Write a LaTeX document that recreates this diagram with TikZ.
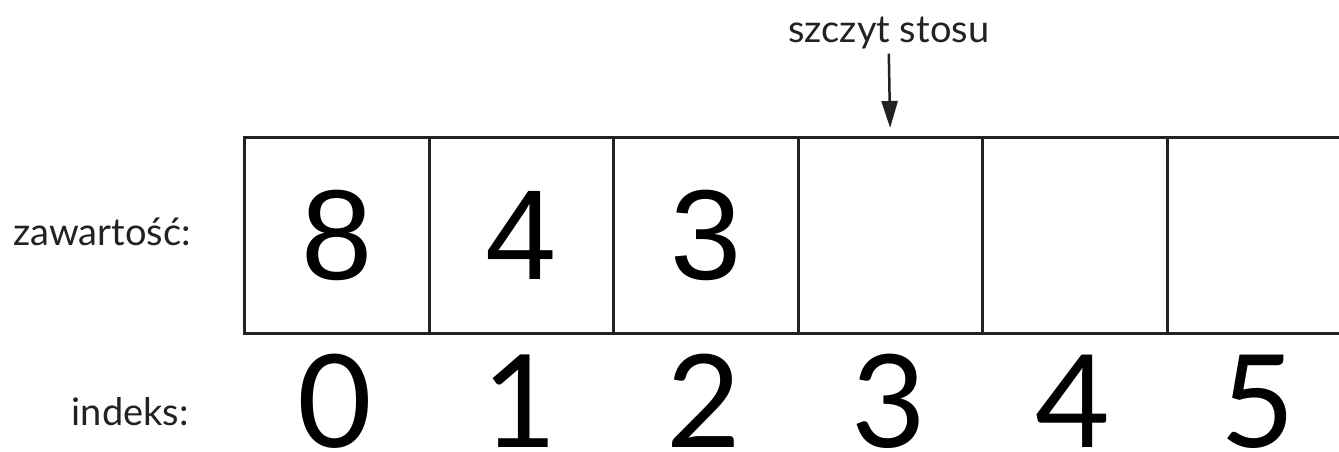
\documentclass[tikz,border=0pt]{standalone}
\usepackage{fontspec}
\setmainfont{Lato}
\newfontfamily\cellfont{Liberation Sans}
\usetikzlibrary{arrows.meta}
\definecolor{ink}{HTML}{222222}
\tikzset{
  cell/.style={draw=ink, line width=3pt, minimum width=184.5pt, minimum height=196pt, inner sep=0pt, anchor=north west, font=\cellfont\fontsize{128}{128}\selectfont, text=black},
  lab/.style={inner sep=0pt, font=\fontsize{38}{38}\selectfont, text=ink},
  idx/.style={inner sep=0pt, anchor=base, font=\fontsize{129}{129}\selectfont, text=black},
  ptr/.style={draw=ink, line width=2.5pt, -{Triangle[length=27pt,width=16pt]}}
}
\begin{document}
\begin{tikzpicture}[x=1pt,y=-1pt]
\useasboundingbox (0,0) rectangle (1339,452);
\clip (0,0) rectangle (1339,452);
\fill[white] (0,0) rectangle (1339,452);
\node[cell] (c0) at (243,136) {8};
\node[cell] (c1) at (427.5,136) {4};
\node[cell] (c2) at (612,136) {3};
\node[cell] (c3) at (796.5,136) {};
\node[cell] (c4) at (981,136) {};
\node[cell] (c5) at (1165.5,136) {};
\node[lab, anchor=base east] (zaw) at (191,245) {zawartość:};
\node[lab, anchor=base east] (ind) at (189,425) {indeks:};
\node[idx] (i0) at (335.25,447) {0};
\node[idx] (i1) at (519.75,447) {1};
\node[idx] (i2) at (704.25,447) {2};
\node[idx] (i3) at (888.75,447) {3};
\node[idx] (i4) at (1073.25,447) {4};
\node[idx] (i5) at (1257.75,447) {5};
\node[lab, anchor=base] (top) at (888.75,43) {szczyt stosu};
\draw[ptr, shorten <=4pt, shorten >=8pt] (top.south) -- (c3.north);
\end{tikzpicture}
\end{document}
